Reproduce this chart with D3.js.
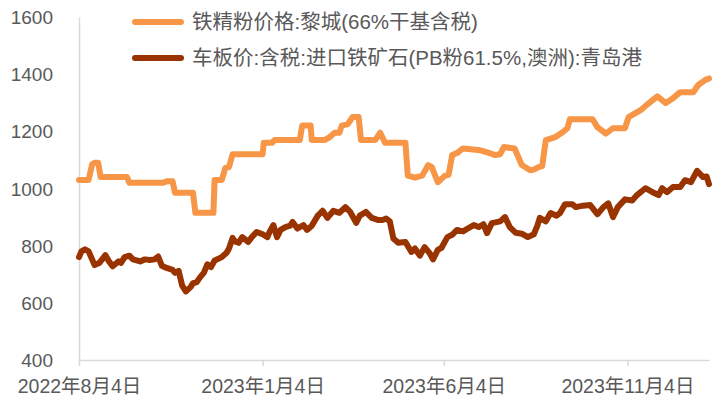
<!DOCTYPE html>
<html><head><meta charset="utf-8">
<script src="https://cdn.jsdelivr.net/npm/d3@7"></script>
<style>
html,body{margin:0;padding:0;background:#fff;}
svg text{font-family:"Liberation Sans","Noto Sans CJK SC",sans-serif;fill:#595959;}
</style></head>
<body><svg id="c" width="721" height="403"></svg>
<script>
const seriesNames = ["铁精粉价格:黎城(66%干基含税)", "车板价:含税:进口铁矿石(PB粉61.5%,澳洲):青岛港"];
const seriesColors = ["#F79646", "#993300"];

const orangeDates = ["2022-08-04","2022-08-12","2022-08-15","2022-08-17","2022-08-20","2022-08-22","2022-09-13","2022-09-15","2022-10-13","2022-10-16","2022-10-21","2022-10-23","2022-11-07","2022-11-09","2022-11-24","2022-11-25","2022-12-01","2022-12-04","2022-12-07","2022-12-10","2023-01-04","2023-01-05","2023-01-12","2023-01-14","2023-02-04","2023-02-06","2023-02-13","2023-02-14","2023-02-25","2023-03-01","2023-03-05","2023-03-09","2023-03-11","2023-03-16","2023-03-20","2023-03-25","2023-03-27","2023-04-08","2023-04-12","2023-04-16","2023-05-03","2023-05-05","2023-05-11","2023-05-17","2023-05-22","2023-05-25","2023-05-30","2023-06-05","2023-06-08","2023-06-11","2023-06-15","2023-06-20","2023-07-03","2023-07-09","2023-07-17","2023-07-21","2023-07-24","2023-08-02","2023-08-08","2023-08-15","2023-08-18","2023-08-22","2023-08-25","2023-08-28","2023-09-05","2023-09-11","2023-09-15","2023-09-17","2023-10-06","2023-10-10","2023-10-17","2023-10-23","2023-11-02","2023-11-05","2023-11-15","2023-11-18","2023-11-23","2023-11-29","2023-12-06","2023-12-12","2023-12-18","2023-12-29","2024-01-02","2024-01-08","2024-01-11"];
const orangeValues = [1030,1030,1085,1090,1090,1040,1040,1020,1020,1025,1025,985,985,915,915,1030,1030,1072,1075,1120,1120,1160,1160,1170,1170,1220,1220,1170,1170,1180,1195,1195,1220,1225,1250,1250,1170,1170,1195,1160,1160,1045,1038,1045,1082,1075,1022,1045,1048,1117,1124,1140,1135,1128,1117,1120,1145,1140,1082,1064,1066,1075,1078,1169,1180,1197,1211,1242,1242,1215,1192,1211,1211,1250,1274,1285,1302,1322,1299,1316,1337,1337,1362,1380,1385];

const brownDates = ["2022-08-04","2022-08-06","2022-08-09","2022-08-12","2022-08-17","2022-08-21","2022-08-26","2022-08-29","2022-09-01","2022-09-06","2022-09-08","2022-09-11","2022-09-15","2022-09-18","2022-09-24","2022-09-28","2022-10-02","2022-10-06","2022-10-09","2022-10-12","2022-10-16","2022-10-21","2022-10-23","2022-10-26","2022-10-29","2022-11-01","2022-11-05","2022-11-07","2022-11-10","2022-11-13","2022-11-16","2022-11-19","2022-11-22","2022-11-25","2022-12-01","2022-12-05","2022-12-07","2022-12-10","2022-12-12","2022-12-15","2022-12-18","2022-12-23","2022-12-26","2022-12-30","2023-01-04","2023-01-08","2023-01-10","2023-01-13","2023-01-16","2023-01-19","2023-01-23","2023-01-27","2023-01-29","2023-02-02","2023-02-07","2023-02-10","2023-02-14","2023-02-19","2023-02-23","2023-02-27","2023-03-04","2023-03-09","2023-03-14","2023-03-18","2023-03-23","2023-03-26","2023-03-31","2023-04-05","2023-04-10","2023-04-14","2023-04-17","2023-04-20","2023-04-23","2023-04-27","2023-05-03","2023-05-08","2023-05-11","2023-05-15","2023-05-19","2023-05-23","2023-05-26","2023-05-30","2023-06-02","2023-06-07","2023-06-11","2023-06-15","2023-06-20","2023-06-24","2023-06-29","2023-07-03","2023-07-07","2023-07-10","2023-07-14","2023-07-21","2023-07-25","2023-07-29","2023-08-03","2023-08-08","2023-08-13","2023-08-18","2023-08-21","2023-08-23","2023-08-28","2023-09-01","2023-09-06","2023-09-09","2023-09-13","2023-09-19","2023-09-22","2023-09-28","2023-10-04","2023-10-10","2023-10-15","2023-10-19","2023-10-23","2023-10-27","2023-11-02","2023-11-08","2023-11-12","2023-11-19","2023-11-25","2023-11-30","2023-12-03","2023-12-07","2023-12-12","2023-12-18","2023-12-22","2023-12-27","2024-01-01","2024-01-06","2024-01-09","2024-01-11"];
const brownValues = [760,780,787,780,732,740,767,745,728,745,740,760,765,752,745,752,750,752,762,730,722,715,705,712,660,640,655,669,672,690,705,735,725,748,760,775,790,827,815,810,830,813,830,848,840,830,850,872,830,855,865,870,883,860,872,855,870,905,922,897,922,915,935,918,880,905,918,897,890,890,895,885,825,810,813,778,790,765,795,775,752,785,792,830,838,855,850,860,872,865,875,844,879,885,900,865,845,842,830,840,870,897,885,914,905,915,945,945,935,940,942,910,935,948,900,935,962,958,977,1001,987,977,1001,987,1005,1005,1029,1022,1062,1040,1042,1015];

const yTicks = [400, 600, 800, 1000, 1200, 1400, 1600];
const xTickDates = ["2022-08-04", "2023-01-04", "2023-06-04", "2023-11-04"];
const xDomain = ["2022-08-04", "2024-01-11"];

const parse = d3.timeParse("%Y-%m-%d");
const fmt = d3.timeFormat("%Y年%-m月%-d日");
const svg = d3.select("#c");

const x = d3.scaleTime().domain(xDomain.map(parse)).range([79, 709]);
const y = d3.scaleLinear().domain([400, 1600]).range([360, 17]);

// y axis
const yAxis = svg.append("g").attr("transform", "translate(79,0)")
  .call(d3.axisLeft(y).tickValues(yTicks).tickFormat(d3.format("d")).tickSize(0).tickPadding(26));
yAxis.select(".domain").attr("stroke", "#d9d9d9").attr("stroke-width", 1.5);
yAxis.selectAll("text").style("font-size", "19px").attr("fill", "#595959").attr("dy", "0.35em");

// x axis
const xAxis = svg.append("g").attr("transform", "translate(0,360)")
  .call(d3.axisBottom(x).tickValues(xTickDates.map(parse)).tickFormat(fmt).tickSize(6).tickSizeOuter(0).tickPadding(13));
xAxis.select(".domain").attr("stroke", "#d9d9d9").attr("stroke-width", 1.5);
xAxis.selectAll(".tick line").attr("stroke", "#d9d9d9").attr("stroke-width", 1.5);
xAxis.selectAll("text").style("font-size", "19.5px").attr("fill", "#595959");

const line = d3.line().x(d => x(d[0])).y(d => y(d[1]));
const data = [
  orangeDates.map((d, i) => [parse(d), orangeValues[i]]),
  brownDates.map((d, i) => [parse(d), brownValues[i]])
];
data.forEach((s, i) => {
  svg.append("path").datum(s).attr("d", line)
    .attr("fill", "none").attr("stroke", seriesColors[i]).attr("stroke-width", 6)
    .attr("stroke-linejoin", "round").attr("stroke-linecap", "round");
});

// legend
const leg = svg.append("g");
seriesNames.forEach((n, i) => {
  const ly = 22 + i * 36;
  leg.append("line").attr("x1", 135).attr("x2", 181).attr("y1", ly).attr("y2", ly)
    .attr("stroke", seriesColors[i]).attr("stroke-width", 6).attr("stroke-linecap", "round");
  leg.append("text").attr("x", 192).attr("y", ly).attr("dy", "0.35em")
    .style("font-size", "20.5px").text(n);
});
</script></body></html>
